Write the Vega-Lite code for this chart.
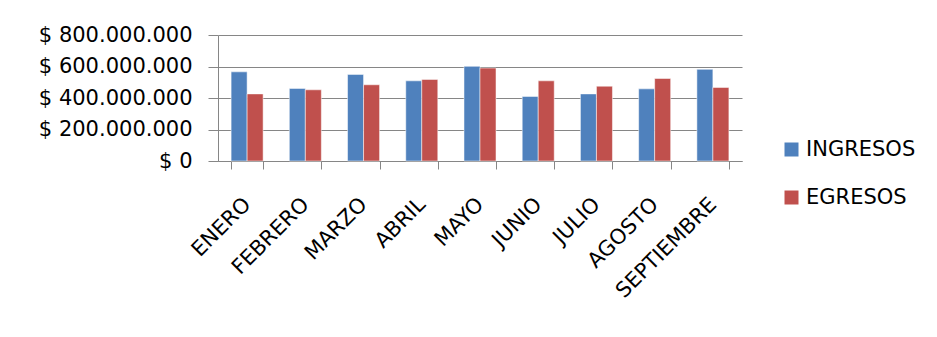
{
  "$schema": "https://vega.github.io/schema/vega-lite/v6.json",
  "autosize": {"type": "none"},
  "padding": {"left": 218, "top": 35, "right": 195, "bottom": 176},
  "width": 524,
  "height": 126,
  "background": "#ffffff",
  "config": {
    "view": {"stroke": null},
    "font": "DejaVu Sans"
  },
  "data": {
    "values": [
      {"mes": "ENERO", "serie": "INGRESOS", "valor": 566000000},
      {"mes": "ENERO", "serie": "EGRESOS", "valor": 426000000},
      {"mes": "FEBRERO", "serie": "INGRESOS", "valor": 461000000},
      {"mes": "FEBRERO", "serie": "EGRESOS", "valor": 452000000},
      {"mes": "MARZO", "serie": "INGRESOS", "valor": 550000000},
      {"mes": "MARZO", "serie": "EGRESOS", "valor": 484000000},
      {"mes": "ABRIL", "serie": "INGRESOS", "valor": 509000000},
      {"mes": "ABRIL", "serie": "EGRESOS", "valor": 518000000},
      {"mes": "MAYO", "serie": "INGRESOS", "valor": 601000000},
      {"mes": "MAYO", "serie": "EGRESOS", "valor": 590000000},
      {"mes": "JUNIO", "serie": "INGRESOS", "valor": 410000000},
      {"mes": "JUNIO", "serie": "EGRESOS", "valor": 509000000},
      {"mes": "JULIO", "serie": "INGRESOS", "valor": 426000000},
      {"mes": "JULIO", "serie": "EGRESOS", "valor": 475000000},
      {"mes": "AGOSTO", "serie": "INGRESOS", "valor": 458000000},
      {"mes": "AGOSTO", "serie": "EGRESOS", "valor": 524000000},
      {"mes": "SEPTIEMBRE", "serie": "INGRESOS", "valor": 582000000},
      {"mes": "SEPTIEMBRE", "serie": "EGRESOS", "valor": 467000000}
    ]
  },
  "mark": {"type": "bar", "stroke": "#ffffff", "strokeOpacity": 0.5, "strokeWidth": 1},
  "encoding": {
    "x": {
      "field": "mes",
      "type": "nominal",
      "sort": null,
      "scale": {"paddingInner": 0.45, "paddingOuter": 0.225},
      "axis": {
        "title": null,
        "labelAngle": -45,
        "labelAlign": "right",
        "labelBaseline": "middle",
        "labelFont": "DejaVu Sans",
        "labelFontSize": 21,
        "labelColor": "#000000",
        "labelPadding": 32,
        "tickBand": "extent",
        "tickSize": 8,
        "tickColor": "#868686",
        "domainColor": "#868686",
        "grid": false
      }
    },
    "xOffset": {"field": "serie", "type": "nominal", "sort": ["INGRESOS", "EGRESOS"], "scale": {"paddingInner": 0, "paddingOuter": 0}},
    "y": {
      "field": "valor",
      "type": "quantitative",
      "scale": {"domain": [0, 800000000]},
      "axis": {
        "title": null,
        "values": [0, 200000000, 400000000, 600000000, 800000000],
        "labelExpr": "'$ ' + replace(replace(format(datum.value, ','), ',', '.'), ',', '.')",
        "labelFont": "DejaVu Sans",
        "labelFontSize": 21,
        "labelColor": "#000000",
        "labelPadding": 16,
        "tickSize": 10,
        "tickColor": "#868686",
        "domainColor": "#868686",
        "gridColor": "#868686",
        "gridWidth": 1
      }
    },
    "color": {
      "field": "serie",
      "type": "nominal",
      "sort": ["INGRESOS", "EGRESOS"],
      "scale": {"domain": ["INGRESOS", "EGRESOS"], "range": ["#4f81bd", "#c0504d"]},
      "legend": {
        "title": null,
        "orient": "none",
        "legendX": 563,
        "legendY": 104,
        "padding": 0,
        "symbolType": "square",
        "symbolSize": 196,
        "symbolStrokeWidth": 0,
        "labelFont": "DejaVu Sans",
        "labelFontSize": 21,
        "labelColor": "#000000",
        "labelOffset": 4,
        "rowPadding": 26
      }
    }
  }
}
